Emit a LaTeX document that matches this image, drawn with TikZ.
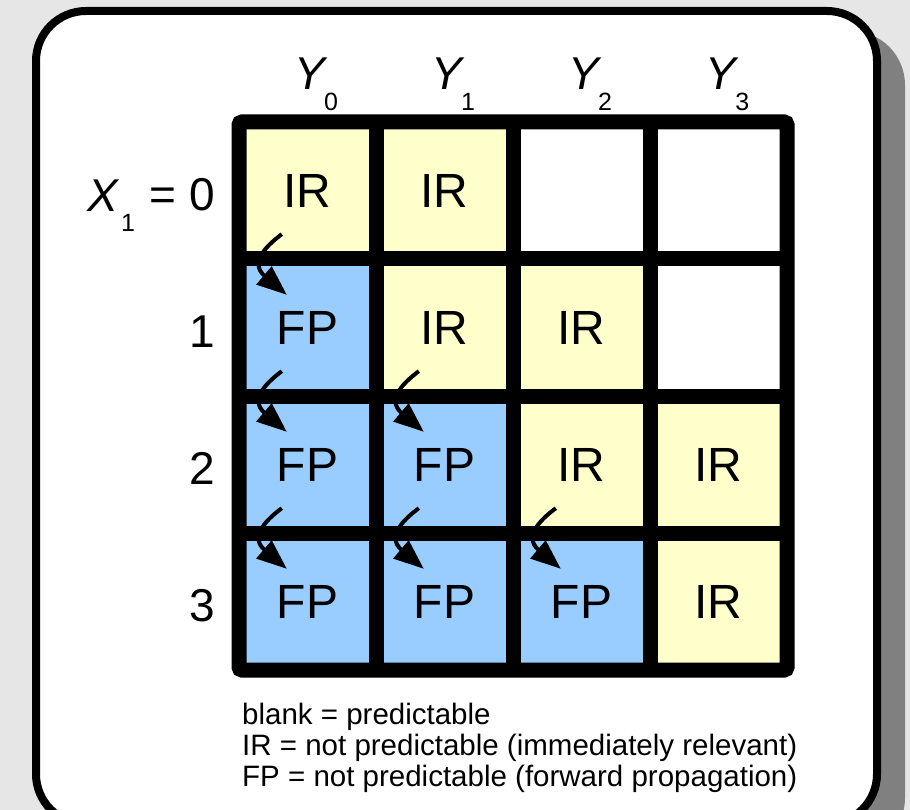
\documentclass[tikz,border=0pt]{standalone}
\usepackage{fontspec}
\setmainfont{Liberation Sans}
\usetikzlibrary{arrows.meta,calc}
\definecolor{bg}{HTML}{E6E6E6}
\definecolor{shadowgray}{HTML}{808080}
\definecolor{irfill}{HTML}{FFFFCC}
\definecolor{fpfill}{HTML}{99CCFF}
% cell text, set a little below the centre of its cell
\newcommand\celltext[1]{\raisebox{-2pt}{#1}}
\begin{document}
\begin{tikzpicture}[x=1pt,y=-1pt,
  cell/.style={minimum size=137pt, inner sep=0pt, draw=none, font=\fontsize{48}{48}\selectfont},
  ir/.style={cell, fill=irfill},
  fp/.style={cell, fill=fpfill},
  blankcell/.style={cell, fill=white},
  big/.style={inner sep=0pt, font=\fontsize{46}{46}\selectfont},
  sub/.style={inner sep=0pt, font=\fontsize{25}{25}\selectfont},
  legend/.style={inner sep=0pt, anchor=base west, font=\fontsize{29.5}{29.5}\selectfont},
  fparrow/.style={line width=4pt, -{Triangle[length=30pt,width=23pt]}},
  gridline/.style={line width=15pt},
]
\useasboundingbox (0,0) rectangle (910,810);
\fill[bg] (0,0) rectangle (910,810);

% panel with its drop shadow
\begin{scope}
  \clip (0,0) rectangle (910,810);
  \fill[shadowgray, rounded corners=54pt] (56,31) rectangle (905,852);
  \draw[line width=8pt, fill=white, rounded corners=50pt] (36,11) rectangle (877,824);
\end{scope}

% cells of the table
\foreach \r/\c/\k/\t in {
  0/0/ir/IR, 0/1/ir/IR, 0/2/blankcell/, 0/3/blankcell/,
  1/0/fp/FP, 1/1/ir/IR, 1/2/ir/IR, 1/3/blankcell/,
  2/0/fp/FP, 2/1/fp/FP, 2/2/ir/IR, 2/3/ir/IR,
  3/0/fp/FP, 3/1/fp/FP, 3/2/fp/FP, 3/3/ir/IR}
  \node[\k] (c\r\c) at ({307.5+137*\c},{190.5+137*\r}) {\celltext{\t}};

% grid lines
\draw[gridline, rounded corners=3pt] (239,122) rectangle (787,670);
\foreach \i in {1,2,3} {
  \draw[gridline] ({239+137*\i},122) -- ({239+137*\i},670);
  \draw[gridline] (239,{122+137*\i}) -- (787,{122+137*\i});
}

% forward propagation arrows
\foreach \a/\b in {00/10, 10/20, 11/21, 20/30, 21/31, 22/32}
  \draw[fparrow] ([shift={(43,-25)}]c\a.south west)
    .. controls ([shift={(31,-16)}]c\a.south west) and ([shift={(9,2.5)}]c\a.south west)
    .. ([shift={(48,36)}]c\b.north west);

% column headers
\foreach \c in {0,1,2,3} {
  \node[big, anchor=base] (y\c) at ({309.5+137*\c},90) {\itshape Y};
  \node[sub, anchor=base west] (ys\c) at ([shift={(-1,21)}]y\c.base east) {\c};
}

% row headers
\node[big, anchor=base west] (x1) at (87,212) {\itshape X};
\node[sub, anchor=base west] (x1s) at (121,232) {1};
\node[big, anchor=base east] (r0) at (215,210.5) {= 0};
\node[big, anchor=base east] (r1) at (215,347.5) {1};
\node[big, anchor=base east] (r2) at (215,484.5) {2};
\node[big, anchor=base east] (r3) at (215,621.5) {3};

% legend
\node[legend] (l1) at (242,724) {blank = predictable};
\node[legend] (l2) at (242,755) {IR = not predictable (immediately relevant)};
\node[legend] (l3) at (242,786) {FP = not predictable (forward propagation)};
\end{tikzpicture}
\end{document}
